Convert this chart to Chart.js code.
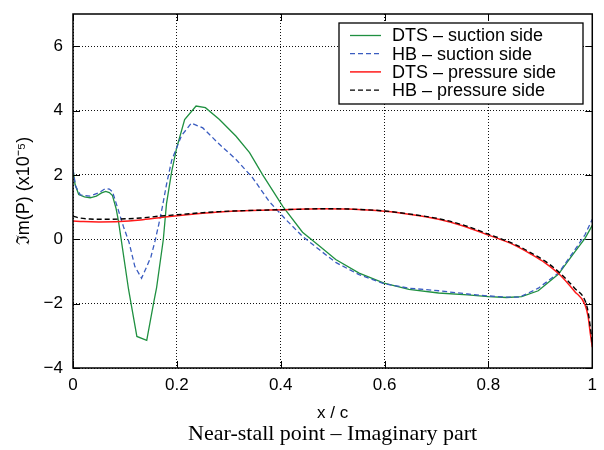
<!DOCTYPE html>
<html lang="en">
<head>
<meta charset="UTF-8">
<title>Near-stall point - Imaginary part</title>
<script src="https://cdn.jsdelivr.net/npm/chart.js"></script>
<style>
  body { margin: 0; background: #fff; }
  .canva { width: 604px; height: 450px; position: relative; }
</style>
</head>
<body>
<div class="canva"><canvas id="grafico"></canvas></div>
<script>
// DTS - suction side
const dtsSuctionX = [0, 0.004, 0.011, 0.022, 0.033, 0.045, 0.055, 0.063, 0.070, 0.076, 0.083, 0.0875, 0.092, 0.107, 0.123, 0.142, 0.155, 0.161, 0.174, 0.180, 0.190, 0.1994, 0.215, 0.237, 0.255, 0.282, 0.314, 0.340, 0.365, 0.404, 0.442, 0.474, 0.506, 0.551, 0.599, 0.647, 0.704, 0.760, 0.800, 0.835, 0.864, 0.896, 0.935, 0.966, 0.986, 1.0];
const dtsSuctionY = [2.17, 1.70, 1.39, 1.32, 1.29, 1.34, 1.44, 1.49, 1.45, 1.36, 0.95, 0.57, 0.08, -1.56, -3.02, -3.14, -2.0, -1.5, 0.0, 1.1, 2.1, 2.82, 3.72, 4.14, 4.09, 3.72, 3.20, 2.69, 2.01, 1.02, 0.22, -0.20, -0.63, -1.05, -1.36, -1.56, -1.67, -1.73, -1.78, -1.81, -1.78, -1.60, -1.08, -0.40, 0.03, 0.43];

// HB - suction side
const hbSuctionX = [0, 0.005, 0.014, 0.033, 0.050, 0.062, 0.070, 0.076, 0.087, 0.097, 0.108, 0.119, 0.132, 0.142, 0.150, 0.158, 0.165, 0.172, 0.180, 0.190, 0.199, 0.209, 0.228, 0.250, 0.282, 0.314, 0.346, 0.378, 0.410, 0.442, 0.474, 0.506, 0.551, 0.599, 0.647, 0.704, 0.760, 0.800, 0.835, 0.860, 0.896, 0.935, 0.966, 0.986, 1.0];
const hbSuctionY = [2.17, 1.65, 1.38, 1.34, 1.45, 1.57, 1.56, 1.48, 0.92, 0.40, -0.10, -0.84, -1.21, -0.85, -0.55, -0.05, 0.45, 1.0, 1.7, 2.45, 2.82, 3.22, 3.61, 3.46, 2.95, 2.48, 1.91, 1.17, 0.61, 0.09, -0.32, -0.72, -1.10, -1.38, -1.52, -1.60, -1.70, -1.76, -1.80, -1.80, -1.52, -1.05, -0.34, 0.14, 0.62];

// DTS - pressure side
const dtsPressureX = [0, 0.02, 0.05, 0.09, 0.13, 0.167, 0.20, 0.244, 0.282, 0.33, 0.378, 0.43, 0.48, 0.53, 0.60, 0.65, 0.704, 0.75, 0.80, 0.85, 0.883, 0.909, 0.938, 0.966, 0.986, 0.992, 0.996, 1.0];
const dtsPressureY = [0.57, 0.55, 0.54, 0.55, 0.60, 0.67, 0.73, 0.80, 0.85, 0.89, 0.91, 0.93, 0.95, 0.94, 0.87, 0.77, 0.62, 0.42, 0.13, -0.18, -0.47, -0.73, -1.11, -1.62, -2.03, -2.4, -2.9, -3.35];

// HB - pressure side
const hbPressureX = [0, 0.01, 0.033, 0.06, 0.091, 0.13, 0.167, 0.20, 0.244, 0.282, 0.33, 0.378, 0.43, 0.48, 0.53, 0.60, 0.65, 0.704, 0.75, 0.80, 0.85, 0.883, 0.909, 0.938, 0.966, 0.986, 0.992, 0.996, 1.0];
const hbPressureY = [0.72, 0.67, 0.63, 0.62, 0.63, 0.66, 0.72, 0.76, 0.82, 0.86, 0.89, 0.91, 0.93, 0.95, 0.94, 0.88, 0.78, 0.64, 0.45, 0.16, -0.15, -0.43, -0.68, -1.05, -1.52, -1.90, -2.25, -2.7, -3.2];

const legendas = ['DTS – suction side', 'HB – suction side', 'DTS – pressure side', 'HB – pressure side'];
const xTicks = [0, 0.2, 0.4, 0.6, 0.8, 1];
const yTicks = [-4, -2, 0, 2, 4, 6];

function pontos(xs, ys) {
    return xs.map((x, i) => ({ x: x, y: ys[i] }));
}

Chart.defaults.font.family = "'Liberation Sans', Arial, sans-serif";
Chart.defaults.color = '#000';

const dados = {
    datasets: [
        { label: legendas[0], data: pontos(dtsSuctionX, dtsSuctionY), borderColor: '#1f9040', borderWidth: 1.3, order: 4, tension: 0 },
        { label: legendas[1], data: pontos(hbSuctionX, hbSuctionY), borderColor: '#3a5cc0', borderWidth: 1.3, borderDash: [5, 3], order: 3, tension: 0 },
        { label: legendas[2], data: pontos(dtsPressureX, dtsPressureY), borderColor: '#ff1a1a', borderWidth: 1.5, order: 2, cubicInterpolationMode: 'monotone' },
        { label: legendas[3], data: pontos(hbPressureX, hbPressureY), borderColor: '#000000', borderWidth: 1.4, borderDash: [5, 3], order: 1, cubicInterpolationMode: 'monotone' }
    ]
};

// frame, inner tick marks and the boxed legend
const moldura = {
    id: 'moldura',
    afterDraw(chart) {
        const { ctx, chartArea: a, scales: { x, y } } = chart;
        ctx.save();
        ctx.strokeStyle = '#000';
        ctx.lineWidth = 1;
        ctx.setLineDash([]);
        ctx.beginPath();
        xTicks.forEach(v => {
            const p = Math.round(x.getPixelForValue(v)) + 0.5;
            ctx.moveTo(p, a.bottom); ctx.lineTo(p, a.bottom - 7);
            ctx.moveTo(p, a.top); ctx.lineTo(p, a.top + 7);
        });
        yTicks.forEach(v => {
            const p = Math.round(y.getPixelForValue(v)) + 0.5;
            ctx.moveTo(a.left, p); ctx.lineTo(a.left + 7, p);
            ctx.moveTo(a.right, p); ctx.lineTo(a.right - 7, p);
        });
        ctx.stroke();

        // legend
        const lx = a.left + 266, ly = a.top + 9, lw = 244, lh = 81;
        ctx.fillStyle = '#fff';
        ctx.fillRect(lx, ly, lw, lh);
        ctx.lineWidth = 1.3;
        ctx.strokeRect(lx, ly, lw, lh);
        ctx.font = "18px 'Liberation Sans', Arial, sans-serif";
        ctx.textBaseline = 'middle';
        ctx.textAlign = 'left';
        chart.data.datasets.forEach((ds, i) => {
            const ry = ly + 12.5 + 18.2 * i;
            ctx.strokeStyle = ds.borderColor;
            ctx.lineWidth = ds.borderWidth;
            ctx.setLineDash(ds.borderDash || []);
            ctx.beginPath();
            ctx.moveTo(lx + 11, ry); ctx.lineTo(lx + 42, ry);
            ctx.stroke();
            ctx.fillStyle = '#000';
            ctx.fillText(ds.label, lx + 53, ry + 1);
        });

        ctx.setLineDash([]);
        ctx.strokeStyle = '#000';
        ctx.lineWidth = 1.5;
        ctx.strokeRect(a.left, a.top, a.right - a.left, a.bottom - a.top);
        ctx.restore();
    }
};

const config = {
    type: 'line',
    data: dados,
    options: {
        responsive: true,
        maintainAspectRatio: false,
        animation: false,
        events: [],
        elements: { point: { radius: 0 } },
        layout: { padding: { top: 14, right: 10, left: 0, bottom: 0 } },
        plugins: {
            legend: { display: false },
            tooltip: { enabled: false },
            title: {
                display: true,
                position: 'bottom',
                fullSize: false,
                text: 'Near-stall point – Imaginary part',
                font: { family: "'Liberation Serif', 'Times New Roman', serif", size: 22, weight: 'normal', lineHeight: 1 },
                color: '#000',
                padding: { top: 0, bottom: 4.4 }
            }
        },
        scales: {
            x: {
                type: 'linear',
                min: 0,
                max: 1,
                afterBuildTicks: s => { s.ticks = xTicks.map(v => ({ value: v })); },
                afterFit: s => { s.height = 55.6; },
                ticks: { padding: 7, font: { size: 17 }, maxRotation: 0, callback: v => String(v) },
                grid: { color: '#111', lineWidth: 1, drawTicks: false },
                border: { display: false, dash: [1, 2] },
                title: { display: true, text: 'x / c', font: { size: 17 }, padding: { top: 0, bottom: 0 } }
            },
            y: {
                type: 'linear',
                min: -4,
                max: 7,
                afterBuildTicks: s => { s.ticks = yTicks.map(v => ({ value: v })); },
                afterFit: s => { s.width = 73; s.paddingTop = 0; s.paddingBottom = 0; },
                ticks: { padding: 10, font: { size: 17 }, callback: v => String(v).replace('-', '−') },
                grid: { color: '#111', lineWidth: 1, drawTicks: false },
                border: { display: false, dash: [1, 2] },
                title: { display: true, text: 'ℑm(P) (x10⁻⁵)', font: { size: 18 }, padding: { top: 13, bottom: 0 } }
            }
        }
    },
    plugins: [moldura]
};

let myChart = new Chart(document.getElementById('grafico'), config);
</script>
</body>
</html>
